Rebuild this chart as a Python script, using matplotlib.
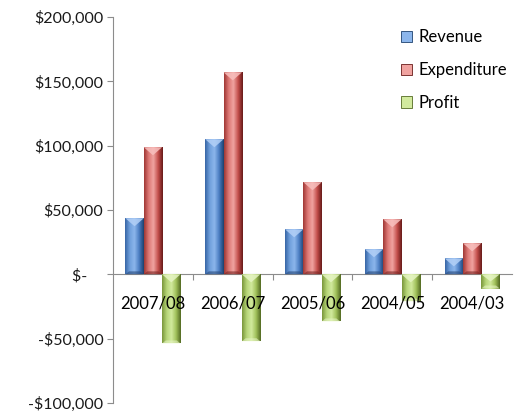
import numpy as np
import matplotlib
matplotlib.use("Agg")
import matplotlib.pyplot as plt
from matplotlib.colors import LinearSegmentedColormap
from matplotlib.patches import Patch, Polygon
from matplotlib.ticker import FuncFormatter

# ── DATA ──────────────────────────────────────────────────────────────────────
categories  = ["2007/08", "2006/07", "2005/06", "2004/05", "2004/03"]
revenue     = [43600, 105000, 35000, 19500, 12400]
expenditure = [98800, 157000, 71600, 42800, 24100]
profit      = [-53700, -52000, -36600, -21000, -11000]

series_names = ["Revenue", "Expenditure", "Profit"]
series_vals  = [revenue, expenditure, profit]

# base colour, then horizontal shading (left -> right)
base_cols = ["#4f81bd", "#c0504d", "#9bbb59"]
shades = [
    ["#3866a6", "#6f9fdc", "#8cb6ec", "#4b7dc2", "#1d416f"],
    ["#a03835", "#de7a77", "#f0a3a0", "#c44f4c", "#681b19"],
    ["#7a973b", "#b6d578", "#d2ea9e", "#a0c05a", "#536a23"],
]
bevel_cols = ["#b3d0f7", "#f8c0be", "#e6f5c4"]
dark_cols  = ["#28497a", "#7a2523", "#5e7a2a"]

# ── FIGURE ────────────────────────────────────────────────────────────────────
plt.rcParams["font.family"] = ["Lato", "DejaVu Sans"]

fig = plt.figure(figsize=(5.24, 4.12), dpi=100)
ax = fig.add_axes([0.2157, 0.0218, 0.7615, 0.9369])

x = np.arange(len(categories))
bw = 0.23
offsets = [-bw, 0.0, bw]
px = 300000 / (0.9369 * 412)  # data units per pixel (vertical)

for s, vals in enumerate(series_vals):
    cmap = LinearSegmentedColormap.from_list(f"c{s}", shades[s])
    grad = np.linspace(0, 1, 64).reshape(1, -1)
    bars = ax.bar(x + offsets[s], vals, width=bw, color=base_cols[s],
                  linewidth=0, zorder=2)
    for b in bars:
        x0, y0 = b.get_x(), b.get_y()
        w, h = b.get_width(), b.get_height()
        y_lo, y_hi = min(y0, y0 + h), max(y0, y0 + h)
        im = ax.imshow(grad, cmap=cmap, extent=(x0, x0 + w, y_lo, y_hi),
                       aspect="auto", zorder=3, interpolation="bilinear")
        im.set_clip_path(b)
        bev = min(8 * px, (y_hi - y_lo) * 0.5)
        tri = Polygon([(x0, y_hi), (x0 + w, y_hi), (x0 + w / 2, y_hi - bev)],
                      closed=True, facecolor=bevel_cols[s], alpha=0.85,
                      linewidth=0, zorder=4)
        ax.add_patch(tri)
        # bottom bevel: dark for upward bars, light rim for downward bars
        rim_col = dark_cols[s] if h > 0 else bevel_cols[s]
        rim = Polygon([(x0, y_lo), (x0 + w, y_lo),
                       (x0 + w * 0.8, y_lo + 3 * px), (x0 + w * 0.2, y_lo + 3 * px)],
                      closed=True, facecolor=rim_col, alpha=0.6,
                      linewidth=0, zorder=4)
        ax.add_patch(rim)

ax.set_xlim(-0.5, len(categories) - 0.5)
ax.set_ylim(-100000, 200000)
ax.set_yticks(np.arange(-100000, 200001, 50000))


def money(v, pos):
    if v == 0:
        return "$-    "
    s = f"${abs(v):,.0f}"
    return "-" + s if v < 0 else s


ax.yaxis.set_major_formatter(FuncFormatter(money))
ax.tick_params(axis="y", direction="out", length=4, color="#8c8c8c",
               labelsize=11.5, labelcolor="#1a1a1a", pad=3)

# x axis at zero, ticks at category boundaries
ax.spines["bottom"].set_position(("data", 0))
ax.spines["bottom"].set_color("#8c8c8c")
ax.spines["left"].set_color("#8c8c8c")
ax.spines["top"].set_visible(False)
ax.spines["right"].set_visible(False)
ax.set_xticks(np.arange(0.5, len(categories) - 0.5, 1.0))
ax.set_xticklabels([])
ax.tick_params(axis="x", direction="out", length=4, color="#8c8c8c")

for i, cat in enumerate(categories):
    ax.annotate(cat, xy=(i, 0), xytext=(0, -21), textcoords="offset points",
                ha="center", va="center", fontsize=12, color="black",
                zorder=10)

handles = [Patch(facecolor=shades[s][2], edgecolor=shades[s][4], linewidth=0.6)
           for s in range(3)]
ax.legend(handles, series_names, loc="upper left", bbox_to_anchor=(0.705, 0.985),
          frameon=False, fontsize=12, labelspacing=1.0, handlelength=0.65,
          handleheight=0.65, handletextpad=0.4, borderaxespad=0,
          labelcolor="black")

fig.savefig("out.png", dpi=100, facecolor="white")
